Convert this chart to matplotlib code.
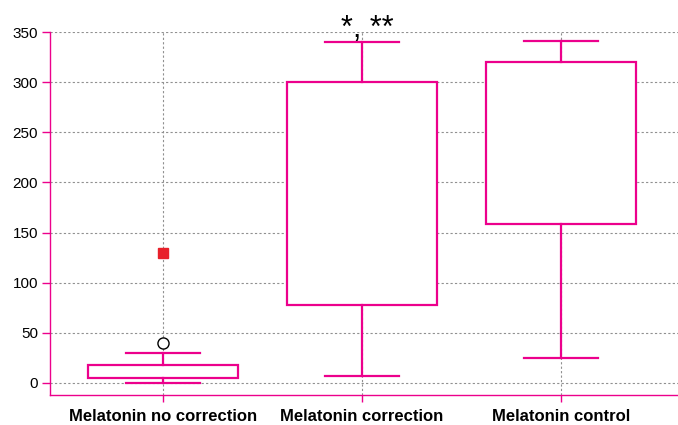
import matplotlib
matplotlib.use("Agg")
import matplotlib.pyplot as plt

plt.rcParams['font.family'] = ['Liberation Sans', 'DejaVu Sans']

categories = ["Melatonin no correction", "Melatonin correction", "Melatonin control"]
whisker_low = [0, 7, 25]
q1 = [5, 78, 159]
q3 = [18, 300, 320]
whisker_high = [30, 340, 341]
medians = [5, 78, 159]
outliers_circle = [[40], [], []]
extremes_square = [[130], [], []]
yticks = [0, 50, 100, 150, 200, 250, 300, 350]
annotation = "*, **"

pink = '#ec008c'
fig = plt.figure(figsize=(6.78, 4.25), dpi=100)
ax = fig.add_axes([50/678, 30/425, 628/678, 363/425])

stats = []
for i, name in enumerate(categories):
    stats.append(dict(label=name, whislo=whisker_low[i], q1=q1[i], med=medians[i],
                      q3=q3[i], whishi=whisker_high[i], fliers=outliers_circle[i]))

positions = list(range(1, len(categories) + 1))
ax.bxp(stats, positions=positions, widths=0.75, capwidths=0.37, patch_artist=True,
       boxprops=dict(facecolor='white', edgecolor=pink, linewidth=1.6),
       whiskerprops=dict(color=pink, linewidth=1.6),
       capprops=dict(color=pink, linewidth=1.6),
       medianprops=dict(visible=False),
       flierprops=dict(marker='o', markerfacecolor='white', markeredgecolor='black',
                       markersize=8, markeredgewidth=1.0),
       zorder=3)

for i, vals in enumerate(extremes_square):
    if vals:
        ax.plot([positions[i]] * len(vals), vals, linestyle='none', marker='s',
                color='#e8202a', markersize=7, zorder=4)

ax.set_xlim(0.432, 3.588)
ax.set_ylim(-12, 350)
ax.set_yticks(yticks)
ax.set_xticks(positions)
ax.set_xticklabels(categories, fontsize=12, fontweight='bold')
ax.tick_params(axis='y', labelsize=11, color=pink, length=6, width=1, pad=2.5)
ax.tick_params(axis='x', color=pink, length=5, width=1, pad=5)

ax.grid(True, linestyle=(0, (2, 2)), color='#909090', linewidth=0.8, zorder=0)
ax.set_axisbelow(True)

for s in ['top', 'right']:
    ax.spines[s].set_visible(False)
for s in ['left', 'bottom']:
    ax.spines[s].set_color(pink)
    ax.spines[s].set_linewidth(1.0)

ax.text(positions[1] + 0.028, 345, annotation, ha='center', va='baseline', fontsize=22,
        clip_on=False)

fig.savefig('out.png', dpi=100)
